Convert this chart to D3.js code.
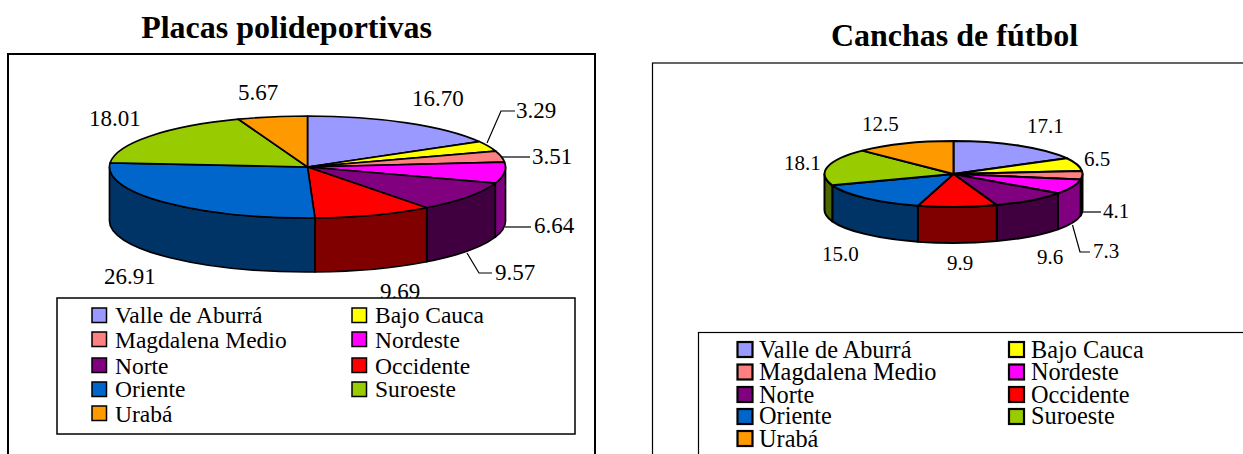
<!DOCTYPE html>
<html><head><meta charset="utf-8">
<script src="https://cdn.jsdelivr.net/npm/d3@7"></script>
<style>html,body{margin:0;padding:0;background:#fff;overflow:hidden}svg{display:block}
text{font-family:"Liberation Serif",serif;fill:#000}</style></head>
<body><svg id="c" width="1243" height="454"></svg>
<script>
const categories=["Valle de Aburrá","Bajo Cauca","Magdalena Medio","Nordeste","Norte","Occidente","Oriente","Suroeste","Urabá"];
const sliceColors=["#9999ff","#ffff00","#ff8080","#ff00ff","#800080","#ff0000","#0066cc","#99cc00","#ff9900"];
const placasValues=[16.70,3.29,3.51,6.64,9.57,9.69,26.91,18.01,5.67];
const canchasValues=[17.1,6.5,4.1,7.3,9.6,9.9,15.0,18.1,12.5];
const placasLabels=["16.70","3.29","3.51","6.64","9.57","9.69","26.91","18.01","5.67"];
const canchasLabels=["17.1","6.5","4.1","7.3","9.6","9.9","15.0","18.1","12.5"];

// layout only
const placasLayout={title:"Placas polideportivas",titleX:286.5,titleY:38,frame:[8,54,595,470],frameW:2,
 cx:307.5,cy:167,rx:198,ry:51,depth:54,sw:1.7,
 labelXY:[[412,106],[516,118],[532,164],[534,233],[495,280],[380,299],[104,284],[89,126],[238,100]],
 leaders:[null,[[487,143],[501,111],[515,111]],[[502,157],[530,157]],[[505,227],[531,227]],[[467,253],[479,273],[492,273]],null,null,null,null],
 legend:[57,298,575,434],legendW:1.5,swX:[92,352],txtX:[115,375],swY:[308,332,358,382,406],txtY:[323,348,374,397,422],swS:14.5,swW:1.5,fs:23.5,labelFs:23};
const canchasLayout={title:"Canchas de fútbol",titleX:954.5,titleY:46,frame:[652.5,63,1260,470],frameW:1.2,
 cx:953.5,cy:174,rx:129,ry:33,depth:36,sw:2,
 labelXY:[[1027,133],[1084,166],[1103,218],[1093,258],[1037,264],[947,270],[822,261],[784,170],[862,131]],
 leaders:[null,null,[[1083,212],[1101,212]],[[1072.5,225],[1080,252],[1090,252]],null,null,null,null,null],
 legend:[698.5,332.5,1270,480],legendW:1.2,swX:[737.5,1009],txtX:[759,1031],swY:[342,364.5,387,409,431],txtY:[357.5,379.5,403,424,447],swS:15,swW:2.2,fs:24.3,labelFs:21};

const svg=d3.select("#c");
function drawPie(values,labels,L){
  const g=svg.append("g");
  g.append("rect").attr("x",L.frame[0]).attr("y",L.frame[1]).attr("width",L.frame[2]-L.frame[0]).attr("height",L.frame[3]-L.frame[1])
    .attr("fill","#fff").attr("stroke","#000").attr("stroke-width",L.frameW);
  g.append("text").text(L.title).attr("x",L.titleX).attr("y",L.titleY).attr("text-anchor","middle")
    .attr("font-size",32).attr("font-weight","bold");

  const arcs=d3.pie().sort(null).value(d=>d)(values);
  const px=a=>L.cx+L.rx*Math.sin(a), py=a=>L.cy-L.ry*Math.cos(a);
  // side walls: only the part of every slice on the front half of the ellipse
  const lo=Math.PI/2, hi=3*Math.PI/2;
  const walls=arcs.map((d,i)=>({a0:Math.max(d.startAngle,lo),a1:Math.min(d.endAngle,hi),i})).filter(d=>d.a1>d.a0);
  const darken=c=>{const k=d3.rgb(c);return d3.rgb(k.r/2,k.g/2,k.b/2).formatHex();};
  g.selectAll(".wall").data(walls).join("path").attr("class","wall")
    .attr("fill",d=>darken(sliceColors[d.i])).attr("stroke","#000").attr("stroke-width",L.sw).attr("stroke-linejoin","round")
    .attr("d",d=>{
      const p=d3.path();
      p.moveTo(px(d.a0),py(d.a0));
      p.lineTo(px(d.a0),py(d.a0)+L.depth);
      return p.toString()+`A${L.rx},${L.ry} 0 0 1 ${px(d.a1)},${py(d.a1)+L.depth}L${px(d.a1)},${py(d.a1)}A${L.rx},${L.ry} 0 0 0 ${px(d.a0)},${py(d.a0)}Z`;
    });
  // top surface
  const arc=d3.arc().innerRadius(0).outerRadius(L.rx);
  g.append("g").attr("transform",`translate(${L.cx},${L.cy}) scale(1,${L.ry/L.rx})`)
    .selectAll("path").data(arcs).join("path")
    .attr("d",arc).attr("fill",(d,i)=>sliceColors[i]).attr("stroke","#000").attr("stroke-width",L.sw)
    .attr("stroke-linejoin","round").attr("vector-effect","non-scaling-stroke");
  // leaders
  const line=d3.line();
  g.selectAll(".leader").data(L.leaders.filter(Boolean)).join("path").attr("class","leader")
    .attr("d",line).attr("fill","none").attr("stroke","#000").attr("stroke-width",1.2);
  // data labels
  g.selectAll(".lab").data(labels).join("text").attr("class","lab").text(d=>d)
    .attr("x",(d,i)=>L.labelXY[i][0]).attr("y",(d,i)=>L.labelXY[i][1])
    .attr("font-size",L.labelFs);
  // legend
  g.append("rect").attr("x",L.legend[0]).attr("y",L.legend[1]).attr("width",L.legend[2]-L.legend[0]).attr("height",L.legend[3]-L.legend[1])
    .attr("fill","#fff").attr("stroke","#000").attr("stroke-width",L.legendW);
  const row=i=>Math.floor(i/2), col=i=>i%2;
  g.selectAll(".sw").data(categories).join("rect").attr("class","sw")
    .attr("x",(d,i)=>L.swX[col(i)]).attr("y",(d,i)=>L.swY[row(i)]).attr("width",L.swS).attr("height",L.swS)
    .attr("fill",(d,i)=>sliceColors[i]).attr("stroke","#000").attr("stroke-width",L.swW);
  g.selectAll(".lt").data(categories).join("text").attr("class","lt").text(d=>d)
    .attr("x",(d,i)=>L.txtX[col(i)]).attr("y",(d,i)=>L.txtY[row(i)])
    .attr("font-size",L.fs);
}
drawPie(placasValues,placasLabels,placasLayout);
drawPie(canchasValues,canchasLabels,canchasLayout);
</script></body></html>
